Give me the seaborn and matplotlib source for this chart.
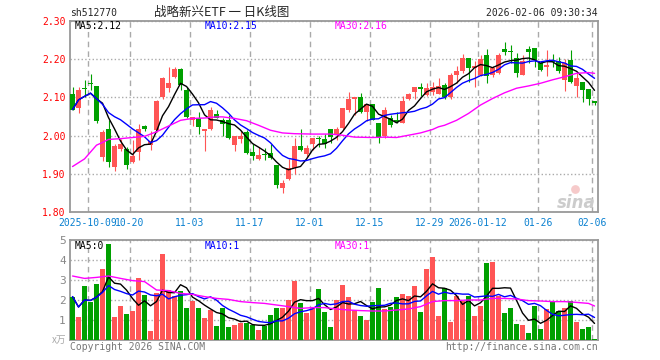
import matplotlib
matplotlib.use("Agg")
import matplotlib.pyplot as plt
import seaborn as sns
import pandas as pd
import numpy as np

# 日K数据 (2025-09-26 .. 2026-02-06)
opens = [2.109, 2.073, 2.124, 2.138, 2.130, 1.944, 2.018, 1.919, 1.965, 1.965,
         1.930, 1.957, 2.025, 1.975, 2.014, 2.100, 2.124, 2.153, 2.175, 2.120,
         2.042, 2.047, 2.012, 2.016, 2.056, 2.040, 2.040, 1.975, 1.990, 2.009,
         1.956, 1.938, 1.952, 1.955, 1.922, 1.863, 1.887, 1.916, 1.972, 1.953,
         1.979, 1.992, 1.992, 2.016, 2.001, 2.021, 2.067, 2.096, 2.100, 2.062,
         2.082, 2.033, 1.998, 2.047, 2.042, 2.033, 2.095, 2.115, 2.125, 2.106,
         2.115, 2.110, 2.132, 2.102, 2.159, 2.170, 2.203, 2.176, 2.159, 2.211,
         2.159, 2.163, 2.226, 2.219, 2.203, 2.159, 2.226, 2.229, 2.190, 2.179,
         2.194, 2.194, 2.146, 2.198, 2.130, 2.141, 2.121, 2.090]
highs = [2.126, 2.126, 2.146, 2.160, 2.130, 2.014, 2.042, 1.977, 1.992, 1.970,
         1.988, 2.030, 2.027, 2.012, 2.092, 2.154, 2.180, 2.180, 2.178, 2.128,
         2.050, 2.062, 2.017, 2.074, 2.067, 2.045, 2.053, 2.000, 2.012, 2.014,
         1.979, 1.970, 1.968, 1.979, 1.922, 1.885, 1.940, 1.994, 2.016, 1.975,
         1.995, 2.000, 2.005, 2.018, 2.023, 2.071, 2.115, 2.102, 2.112, 2.082,
         2.082, 2.033, 2.074, 2.053, 2.062, 2.104, 2.111, 2.126, 2.137, 2.137,
         2.141, 2.150, 2.137, 2.163, 2.182, 2.214, 2.203, 2.194, 2.211, 2.226,
         2.181, 2.216, 2.246, 2.238, 2.216, 2.211, 2.235, 2.229, 2.194, 2.225,
         2.214, 2.207, 2.200, 2.223, 2.163, 2.141, 2.121, 2.090]
lows = [2.067, 2.058, 2.100, 2.120, 2.033, 1.933, 1.918, 1.907, 1.960, 1.912,
        1.928, 1.935, 2.012, 1.963, 2.010, 2.097, 2.115, 2.150, 2.120, 2.047,
        2.025, 2.004, 1.960, 2.014, 2.045, 1.998, 1.992, 1.960, 1.980, 1.953,
        1.937, 1.935, 1.935, 1.940, 1.863, 1.851, 1.884, 1.900, 1.960, 1.944,
        1.961, 1.970, 1.968, 1.980, 1.988, 2.018, 2.062, 2.053, 2.058, 2.039,
        2.040, 1.981, 1.995, 2.023, 2.032, 2.032, 2.093, 2.095, 2.104, 2.104,
        2.106, 2.109, 2.097, 2.097, 2.137, 2.165, 2.141, 2.126, 2.156, 2.139,
        2.154, 2.161, 2.211, 2.191, 2.154, 2.159, 2.191, 2.180, 2.168, 2.156,
        2.180, 2.163, 2.118, 2.137, 2.102, 2.089, 2.080, 2.080]
closes = [2.068, 2.119, 2.121, 2.136, 2.039, 2.009, 1.930, 1.974, 1.977, 1.923,
          1.947, 2.018, 2.016, 1.985, 2.091, 2.150, 2.137, 2.174, 2.132, 2.050,
          2.050, 2.023, 2.017, 2.067, 2.047, 2.030, 1.995, 2.000, 2.000, 1.955,
          1.946, 1.948, 1.949, 1.941, 1.871, 1.876, 1.916, 1.972, 1.961, 1.968,
          1.995, 1.990, 1.979, 1.996, 2.016, 2.071, 2.097, 2.100, 2.062, 2.082,
          2.042, 1.995, 2.067, 2.027, 2.036, 2.091, 2.109, 2.126, 2.123, 2.124,
          2.126, 2.130, 2.102, 2.159, 2.170, 2.203, 2.176, 2.181, 2.200, 2.156,
          2.176, 2.211, 2.220, 2.218, 2.163, 2.196, 2.218, 2.198, 2.172, 2.185,
          2.193, 2.168, 2.190, 2.141, 2.150, 2.119, 2.096, 2.086]
# 成交量 (万手)
volumes = [2.17, 1.13, 2.70, 1.92, 2.80, 3.55, 4.80, 1.13, 1.70, 1.30,
           1.45, 3.10, 2.25, 0.45, 2.37, 4.30, 2.50, 2.20, 2.45, 1.60,
           1.97, 1.60, 1.10, 1.50, 0.70, 1.62, 0.65, 0.75, 0.87, 0.83,
           0.75, 0.50, 0.72, 1.25, 1.62, 1.62, 2.00, 2.97, 1.87, 1.37,
           1.63, 2.55, 1.42, 0.65, 2.00, 2.75, 2.17, 1.50, 1.20, 1.00,
           1.92, 2.62, 1.55, 1.63, 2.17, 2.30, 2.20, 2.70, 1.42, 3.55,
           4.17, 1.22, 2.58, 0.92, 2.22, 1.95, 2.22, 1.22, 1.70, 3.87,
           3.92, 2.20, 1.37, 1.62, 0.80, 0.75, 0.37, 1.70, 0.55, 1.55,
           1.95, 1.45, 1.62, 1.97, 0.92, 0.55, 0.65, 0.05]

# MA30 (价格) 读图
ma30_idx = [0, 2, 4, 5, 6, 8, 10, 12, 14, 16, 18, 20, 22, 24, 25, 27, 29, 31, 33, 35,
            37, 40, 43, 45, 47, 50, 52, 54, 56, 58, 60, 61, 62, 64, 66, 68, 70, 72, 74,
            76, 78, 80, 82, 84, 86, 87]
ma30_val = [1.919, 1.939, 1.975, 1.982, 1.990, 1.992, 1.995, 1.998, 2.010, 2.025,
            2.040, 2.045, 2.046, 2.049, 2.049, 2.045, 2.039, 2.027, 2.014, 2.007,
            2.005, 2.004, 2.004, 2.001, 1.996, 1.995, 1.996, 1.995, 2.001, 2.007,
            2.016, 2.023, 2.027, 2.040, 2.058, 2.080, 2.097, 2.112, 2.124, 2.130,
            2.137, 2.146, 2.154, 2.163, 2.165, 2.163]
# MA30 (成交量) 读图
vma30_idx = [0, 2, 4, 6, 8, 10, 12, 14, 16, 18, 20, 22, 24, 26, 28, 30, 32, 34, 36, 38,
             40, 42, 44, 46, 48, 50, 52, 54, 56, 58, 60, 62, 64, 66, 68, 70, 72, 74, 76,
             78, 80, 82, 84, 86, 87]
vma30_val = [3.20, 3.08, 3.13, 3.20, 3.08, 2.97, 2.92, 2.50, 2.47, 2.33, 2.28, 2.17,
             2.08, 2.03, 1.92, 1.87, 1.83, 1.75, 1.67, 1.58, 1.62, 1.62, 1.55, 1.50,
             1.47, 1.45, 1.45, 1.50, 1.55, 1.67, 1.92, 1.97, 1.97, 2.00, 2.00, 2.08,
             2.08, 2.05, 1.97, 1.95, 1.92, 1.92, 1.88, 1.83, 1.70]

tick_idx = [3, 10, 20, 30, 40, 50, 60, 68, 78, 87]
tick_labels = ['2025-10-09', '10-20', '11-03', '11-17', '12-01', '12-15',
               '12-29', '2026-01-12', '01-26', '02-06']

RED = '#ff5555'
GREEN = '#00a000'
GRID = '#aaaaaa'
OFF = 0.42  # 蜡烛在每个格子里的中心

df = pd.DataFrame({'open': opens, 'high': highs, 'low': lows,
                   'close': closes, 'vol': volumes})
df['x'] = np.arange(len(df)) + OFF
df['color'] = np.where(df['close'] >= df['open'], RED, GREEN)
df['ma5'] = df['close'].rolling(5, min_periods=1).mean()
df['ma10'] = df['close'].rolling(10, min_periods=1).mean()
df['vma5'] = df['vol'].rolling(5, min_periods=1).mean()
df['vma10'] = df['vol'].rolling(10, min_periods=1).mean()

sns.set_style('white')
plt.rcParams['font.family'] = ['DejaVu Sans Mono', 'Noto Sans CJK SC']
plt.rcParams['font.size'] = 7

W, H = 660, 360
fig = plt.figure(figsize=(W / 100, H / 100), dpi=100)


def px(x, y):
    return x / W, 1 - y / H


ax = fig.add_axes([70 / W, 1 - 212 / H, 528 / W, 191 / H])
axv = fig.add_axes([70 / W, 1 - 340 / H, 528 / W, 100 / H])

# K线
ax.vlines(df['x'], df['low'], df['high'], colors=df['color'], lw=0.8, zorder=2)
body = (df['close'] - df['open']).abs().clip(lower=0.003)
ax.bar(df['x'], body, bottom=df[['open', 'close']].min(axis=1), width=0.84,
       color=df['color'], linewidth=0, zorder=3)
sns.lineplot(x=df['x'], y=df['ma5'], ax=ax, color='black', lw=1, zorder=4)
sns.lineplot(x=df['x'], y=df['ma10'], ax=ax, color='#0000ff', lw=1, zorder=4)
sns.lineplot(x=np.array(ma30_idx) + OFF, y=ma30_val, ax=ax, color='#ff00ff', lw=1, zorder=4)

# 成交量
axv.bar(df['x'], df['vol'], width=0.84, color=df['color'], linewidth=0, zorder=3)
sns.lineplot(x=df['x'], y=df['vma5'], ax=axv, color='black', lw=1, zorder=4)
sns.lineplot(x=df['x'], y=df['vma10'], ax=axv, color='#0000ff', lw=1, zorder=4)
sns.lineplot(x=np.array(vma30_idx) + OFF, y=vma30_val, ax=axv, color='#ff00ff', lw=1, zorder=4)

for a in (ax, axv):
    a.set_xlim(0, len(df))
    a.set_xlabel('')
    a.set_ylabel('')
    a.set_xticks(tick_idx)
    a.xaxis.grid(True, color=GRID, linestyle=(0, (4, 3)), lw=1)
    a.yaxis.grid(True, color=GRID, linestyle=':', lw=1)
    a.set_axisbelow(True)
    a.tick_params(length=0)
    for s in a.spines.values():
        s.set_color('#999999')
        s.set_linewidth(1.3)

ax.set_ylim(1.80, 2.30)
ax.set_yticks([1.8, 1.9, 2.0, 2.1, 2.2, 2.3])
ax.set_yticklabels(['%.2f' % v for v in [1.8, 1.9, 2.0, 2.1, 2.2, 2.3]], color='red')
ax.set_xticklabels(tick_labels, color='#0a80d0')
ax.tick_params(axis='x', pad=4)
ax.tick_params(axis='y', pad=3)

axv.set_ylim(0, 5)
axv.set_yticks([0, 1, 2, 3, 4, 5])
axv.set_yticklabels(['', '1', '2', '3', '4', '5'], color='#888888', fontsize=8)
axv.set_xticklabels([])
axv.tick_params(axis='y', pad=3)

# 文字
fig.text(*px(70, 13), 'sh512770', fontsize=7, va='center')
fig.text(*px(222, 12), '战略新兴ETF 一 日K线图', fontsize=9, va='center', ha='center',
         family=['Noto Sans CJK SC', 'DejaVu Sans'])
fig.text(*px(598, 13), '2026-02-06 09:30:34', fontsize=7, va='center', ha='right')

fig.text(*px(75, 26), 'MA5:2.12', fontsize=7, va='center', color='black')
fig.text(*px(205, 26), 'MA10:2.15', fontsize=7, va='center', color='#0000ff')
fig.text(*px(335, 26), 'MA30:2.16', fontsize=7, va='center', color='#ff00ff')

fig.text(*px(75, 246), 'MA5:0', fontsize=7, va='center', color='black')
fig.text(*px(205, 246), 'MA10:1', fontsize=7, va='center', color='#0000ff')
fig.text(*px(335, 246), 'MA30:1', fontsize=7, va='center', color='#ff00ff')

fig.text(*px(66, 340), 'x万', fontsize=7, va='center', ha='right', color='#aaaaaa',
         family=['Noto Sans CJK SC', 'DejaVu Sans'])
fig.text(*px(70, 347), 'Copyright 2026 SINA.COM', fontsize=7, va='center', color='#777777')
fig.text(*px(598, 347), 'http://finance.sina.com.cn', fontsize=7, va='center',
         ha='right', color='#777777')

# sina 水印
fig.text(*px(596, 203), 'sina', fontsize=12, va='center', ha='right', color='#cccccc',
         style='italic', weight='bold', family='DejaVu Sans')
ax.scatter([px(575, 189)[0]], [px(575, 189)[1]], s=40, color='#f6caca',
           transform=fig.transFigure, zorder=1, linewidths=0)

fig.savefig('out.png', dpi=100)
